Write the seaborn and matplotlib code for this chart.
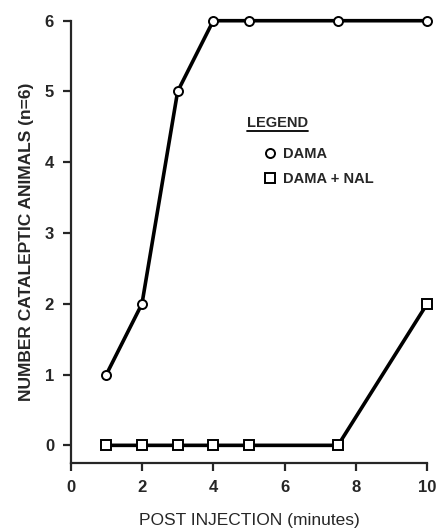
import matplotlib
matplotlib.use("Agg")
import matplotlib.pyplot as plt
import seaborn as sns
import pandas as pd
from matplotlib.lines import Line2D

time_dama = [1, 2, 3, 4, 5, 7.5, 10]
dama = [1, 2, 5, 6, 6, 6, 6]
time_nal = [1, 2, 3, 4, 5, 7.5, 10]
dama_nal = [0, 0, 0, 0, 0, 0, 2]
series_names = ["DAMA", "DAMA + NAL"]
x_ticks = [0, 2, 4, 6, 8, 10]
y_ticks = [0, 1, 2, 3, 4, 5, 6]

df = pd.concat([
    pd.DataFrame({"t": time_dama, "n": dama, "group": series_names[0]}),
    pd.DataFrame({"t": time_nal, "n": dama_nal, "group": series_names[1]}),
])

sns.set_style("ticks")
plt.rcParams["font.family"] = ["Liberation Sans", "DejaVu Sans"]

fig = plt.figure(figsize=(4.39, 5.31), dpi=100)
ax = fig.add_axes([0.161, 0.128, 0.812, 0.833])

sns.lineplot(data=df, x="t", y="n", style="group", markers={"DAMA": "o", "DAMA + NAL": "s"},
             dashes=False, color="black", linewidth=2.6, markersize=6.5,
             markerfacecolor="white", markeredgecolor="black", markeredgewidth=1.4,
             legend=False, ax=ax, zorder=3)
for ln in ax.lines:
    ln.set_clip_on(False)

ax.set_xlim(0, 10)
ax.set_ylim(-0.25, 6)
ax.set_xticks(x_ticks)
ax.set_yticks(y_ticks)
ax.spines["top"].set_visible(False)
ax.spines["right"].set_visible(False)
for s in ["left", "bottom"]:
    ax.spines[s].set_linewidth(1.6)
ax.tick_params(axis="both", direction="out", length=6, width=1.6, labelsize=12, pad=6)
for lab in ax.get_xticklabels() + ax.get_yticklabels():
    lab.set_fontweight("bold")

ax.set_xlabel("POST INJECTION (minutes)", fontsize=12.5, labelpad=13)
ax.set_ylabel("NUMBER CATALEPTIC ANIMALS (n=6)", fontsize=12.5, fontweight="bold", labelpad=8)

handles = [
    Line2D([], [], linestyle="none", marker="o", markersize=6.5, markerfacecolor="white",
           markeredgecolor="black", markeredgewidth=1.4),
    Line2D([], [], linestyle="none", marker="s", markersize=6.5, markerfacecolor="white",
           markeredgecolor="black", markeredgewidth=1.4),
]
leg = ax.legend(handles, series_names, frameon=False,
                loc="center left", bbox_to_anchor=(0.5065, 0.670), handlelength=0.8,
                handletextpad=0.5, labelspacing=0.75, prop={"weight": "bold", "size": 10.5})

title = ax.text(0.495, 0.769, "LEGEND", transform=ax.transAxes, ha="left", va="center",
                fontsize=10.5, fontweight="bold")

fig.canvas.draw()
tb = title.get_window_extent()
inv = fig.transFigure.inverted()
(x0, y0), (x1, y1) = inv.transform([(tb.x0, tb.y0), (tb.x1, tb.y0)])
fig.add_artist(Line2D([x0, x1], [y0 - 0.003, y1 - 0.003], color="black", linewidth=1.3,
                      transform=fig.transFigure))

fig.savefig("out.png", dpi=100)
